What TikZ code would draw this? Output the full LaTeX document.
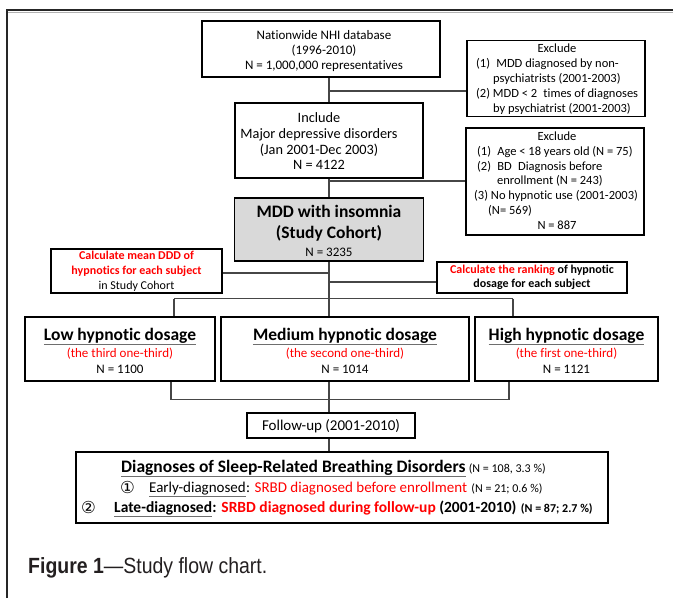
\documentclass[tikz,border=0pt]{standalone}
\usepackage{fontspec}
\setmainfont{Carlito}[Ligatures=NoCommon]
\newfontfamily\capfont{Liberation Sans}
\newfontfamily\symfont{DejaVu Sans}
\usepackage{graphicx}
\definecolor{myred}{RGB}{255,0,0}
\definecolor{conncol}{RGB}{70,70,70}
\definecolor{ulcol}{RGB}{110,110,110}
\definecolor{cohortfill}{RGB}{217,217,217}
\definecolor{capcol}{RGB}{35,31,32}
\begin{document}
\begin{tikzpicture}[x=1pt,y=-1pt,
  box/.style={draw=black,line width=1.8pt,inner sep=0pt,fill=white},
  conn/.style={draw=conncol,line width=1.2pt},
  ul/.style={draw=ulcol,line width=1.3pt},
  tc/.style={anchor=base,inner sep=0pt},
  tl/.style={anchor=base west,inner sep=0pt},
  fa/.style={font=\fontsize{13}{15}\selectfont},
  fi/.style={font=\fontsize{14.3}{16}\selectfont},
  fx/.style={font=\fontsize{12.5}{15}\selectfont},
  fc/.style={font=\fontsize{12}{14}\selectfont\bfseries},
  fh/.style={font=\fontsize{17.5}{21}\selectfont\bfseries},
  fs/.style={font=\fontsize{12}{14}\selectfont},
  fsb/.style={font=\fontsize{12}{14}\selectfont\bfseries},
  fl2/.style={font=\fontsize{15}{18}\selectfont},
  fl3/.style={font=\fontsize{15.5}{18}\selectfont\bfseries},
  fsym/.style={font=\symfont\fontsize{16.5}{18}\selectfont},
]
\useasboundingbox (0,0) rectangle (673,598);
% outer frame
\coordinate (fbl) at (7,598);
\coordinate (ftl) at (7,10);
\coordinate (ftr) at (673,10);
\draw[line width=1.5pt,black!85] (fbl) -- (ftl) -- (ftr);
\coordinate (gl) at (8,12);
\coordinate (gr) at (673,12);
\draw[line width=0.8pt,black!30] (gl) -- (gr);

% boxes
\node[box,minimum width=238pt,minimum height=56pt] (top) at (321,49) {};
\node[box,minimum width=188pt,minimum height=75pt] (inc) at (329,140.5) {};
\node[box,minimum width=178pt,minimum height=76pt] (exc1) at (556,78.5) {};
\node[box,minimum width=178pt,minimum height=107pt] (exc2) at (555,181.5) {};
\node[box,fill=cohortfill,minimum width=189pt,minimum height=63pt] (mdd) at (329,229.5) {};
\node[box,minimum width=171pt,minimum height=44pt] (ddd) at (136.5,271) {};
\node[box,minimum width=190pt,minimum height=31pt] (rank) at (532,277.5) {};
\node[box,minimum width=190pt,minimum height=64pt] (low) at (120,349) {};
\node[box,minimum width=248pt,minimum height=64pt] (med) at (345,349) {};
\node[box,minimum width=183pt,minimum height=64pt] (high) at (566.5,349) {};
\node[box,minimum width=168pt,minimum height=25pt] (fu) at (331,425.5) {};
\node[box,line width=2.2pt,minimum width=532pt,minimum height=71pt] (diag) at (342,487.5) {};

% connectors
\coordinate (b1) at (329,91);
\coordinate (b2) at (329,181);
\coordinate (b3) at (329,273);
\coordinate (b4) at (329,282);
\coordinate (sM) at (329,298.5);
\coordinate (sL) at (174,298.5);
\coordinate (sH) at (513,298.5);
\coordinate (jL) at (171,399.5);
\coordinate (jM) at (329,399.5);
\coordinate (jH) at (509,399.5);
\draw[conn] (inc.north |- top.south) -- (inc.north);
\draw[conn] (b1) -- (b1 -| exc1.west);
\draw[conn] (inc.south) -- (mdd.north);
\draw[conn] (b2) -- (b2 -| exc2.west);
\draw[conn] (mdd.south) -- (sM);
\draw[conn] (b3) -- (b3 -| ddd.east);
\draw[conn] (b4) -- (b4 -| rank.west);
\draw[conn] (sL) -- (sH);
\draw[conn] (sL) -- (sL |- low.north);
\draw[conn] (sM) -- (sM |- med.north);
\draw[conn] (sH) -- (sH |- high.north);
\draw[conn] (jL |- low.south) -- (jL) -- (jH) -- (jH |- high.south);
\draw[conn] (jM |- med.south) -- (jM) -- (jM |- fu.north);
\draw[conn] (jM |- fu.south) -- (jM |- diag.north);

% top box text
\node[tc,fa] (t1) at (324,39) {Nationwide NHI database};
\node[tc,fa] (t2) at (324,54) {(1996-2010)};
\node[tc,fa] (t3) at (324,69) {N = 1,000,000 representatives};
% include text
\node[tc,fi] (i1) at (319,122.5) {Include};
\node[tc,fi] (i2) at (319,138.5) {Major depressive disorders};
\node[tc,fi] (i3) at (319,154) {(Jan 2001-Dec 2003)};
\node[tc,fi] (i4) at (319,169.5) {N = 4122};
% exclude 1
\node[tc,fx] (e1) at (557,52.5) {Exclude};
\node[tl,fx] (e2) at (476,67.5) {(1)\enspace MDD diagnosed by non-};
\node[tl,fx] (e3) at (493,82.5) {psychiatrists (2001-2003)};
\node[tl,fx] (e4) at (476,97.5) {(2) MDD < 2\enspace times of diagnoses};
\node[tl,fx] (e5) at (493,112) {by psychiatrist (2001-2003)};
% exclude 2
\node[tc,fx] (f1) at (557,140.8) {Exclude};
\node[tl,fx] (f2) at (477,155.8) {(1)\enspace Age < 18 years old (N = 75)};
\node[tl,fx] (f3) at (477,170.8) {(2)\enspace BD\enspace Diagnosis before};
\node[tl,fx] (f4) at (497,184.8) {enrollment (N = 243)};
\node[tl,fx] (f5) at (474,199.8) {(3) No hypnotic use (2001-2003)};
\node[tl,fx] (f6) at (488,214.8) {(N= 569)};
\node[tc,fx] (f7) at (557,229.8) {N = 887};
% cohort
\node[tc,fh] (m1) at (329,217.5) {MDD with insomnia};
\node[tc,fh] (m2) at (329,238.5) {(Study Cohort)};
\node[tc,fa] (m3) at (329,256) {N = 3235};
% DDD
\node[tc,fc,text=myred] (d1) at (136.5,259.6) {Calculate mean DDD of};
\node[tc,fc,text=myred] (d2) at (136.5,274.6) {hypnotics for each subject};
\node[tc,fs] (d3) at (136.5,289.6) {in Study Cohort};
% ranking
\node[tc,fc] (r1) at (532,273.6) {\textcolor{myred}{Calculate the ranking} of hypnotic};
\node[tc,fc] (r2) at (532,287.6) {dosage for each subject};
% dosage groups
\node[tc,fh] (lo1) at (120,340.5) {Low hypnotic dosage};
\node[tc,fa,text=myred] (lo2) at (120,357) {(the third one-third)};
\node[tc,fa] (lo3) at (120,373) {N = 1100};
\node[tc,fh] (me1) at (345,340.5) {Medium hypnotic dosage};
\node[tc,fa,text=myred] (me2) at (345,357) {(the second one-third)};
\node[tc,fa] (me3) at (345,373) {N = 1014};
\node[tc,fh] (hi1) at (566.5,340.5) {High hypnotic dosage};
\node[tc,fa,text=myred] (hi2) at (566.5,357) {(the first one-third)};
\node[tc,fa] (hi3) at (566.5,373) {N = 1121};
\draw[ul] ([yshift=-1pt]lo1.south west) -- ([yshift=-1pt]lo1.south east);
\draw[ul] ([yshift=-1pt]me1.south west) -- ([yshift=-1pt]me1.south east);
\draw[ul] ([yshift=-1pt]hi1.south west) -- ([yshift=-1pt]hi1.south east);
% follow-up
\node[tc,font=\fontsize{15}{17}\selectfont] (fu1) at (331,430) {Follow-up (2001-2010)};
% diagnoses
\node[tl,fh] (dt) at (121,472.5) {Diagnoses of Sleep-Related Breathing Disorders};
\node[tl,fs] (dn) at ([xshift=3pt]dt.base east) {(N = 108, 3.3 \%)};
\draw[ul] ([yshift=-1pt]dt.south west) -- ([yshift=-1pt]dt.south east);
\node[tl,fsym] (c1) at (120,493) {①};
\node[tl,fl2] (l2a) at (149,492.5) {Early-diagnosed};
\node[tl,fl2] (l2b) at (l2a.base east) {: \textcolor{myred}{SRBD diagnosed before enrollment}};
\node[tl,fs] (l2c) at ([xshift=4pt]l2b.base east) {(N = 21; 0.6 \%)};
\draw[ul] ([yshift=-1pt]l2a.south west) -- ([yshift=-1pt]l2a.south east);
\node[tl,fsym] (c2) at (81,513) {②};
\node[tl,fl3] (l3a) at (114,512.5) {Late-diagnosed};
\node[tl,fl3] (l3b) at (l3a.base east) {: \textcolor{myred}{SRBD diagnosed during follow-up} (2001-2010)};
\node[tl,fsb] (l3c) at ([xshift=4pt]l3b.base east) {(N = 87; 2.7 \%)};
\draw[ul] ([yshift=-1pt]l3a.south west) -- ([yshift=-1pt]l3a.south east);
% caption
\node[tl,font=\capfont\fontsize{22}{26}\selectfont,text=capcol] (cap) at (28,573) {\scalebox{0.885}[1]{\textbf{Figure 1}—Study flow chart.}};
\end{tikzpicture}
\end{document}
